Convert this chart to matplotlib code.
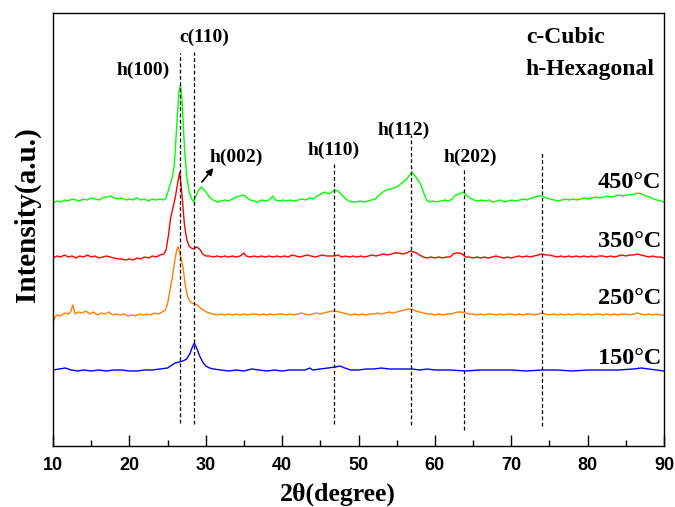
"""
XRD patterns of films annealed at 150-450 °C, stacked with vertical offsets,
with the hexagonal (h) and cubic (c) reflections marked by dashed guides.
"""

import matplotlib
matplotlib.use("Agg")
import matplotlib.pyplot as plt


# ── Data (2θ in degrees, intensity in arbitrary offset units) ────────────────
tt_450 = [10.0, 10.5, 11.0, 11.5, 12.0, 12.5, 13.0, 13.5, 14.0, 14.5, 15.0, 15.5,
          16.0, 16.5, 17.0, 17.5, 18.0, 18.5, 19.0, 19.5, 20.0, 20.5, 21.0, 21.5,
          22.0, 22.5, 23.0, 23.5, 24.0, 24.5, 24.8, 25.2, 25.6, 25.9, 26.2, 26.5,
          26.7, 26.9, 27.2, 27.5, 27.8, 28.1, 28.4, 28.7, 29.0, 29.4, 29.8, 30.2,
          30.6, 31.0, 31.5, 32.0, 32.5, 33.0, 33.5, 34.0, 34.5, 34.9, 35.3, 35.8,
          36.3, 36.8, 37.3, 37.8, 38.3, 38.8, 39.1, 39.6, 40.1, 40.6, 41.1, 41.6,
          42.1, 42.6, 43.1, 43.6, 44.1, 44.6, 45.1, 45.6, 46.1, 46.5, 46.9, 47.3,
          47.7, 48.2, 48.7, 49.2, 49.7, 50.2, 50.7, 51.2, 51.7, 52.2, 52.7, 53.2,
          53.7, 54.2, 54.7, 55.2, 55.7, 56.2, 56.6, 57.0, 57.3, 57.7, 58.1, 58.5,
          58.9, 59.3, 59.8, 60.3, 60.8, 61.3, 61.8, 62.3, 62.7, 63.2, 63.7, 64.1,
          64.6, 65.1, 65.6, 66.1, 66.6, 67.1, 67.6, 68.1, 68.6, 69.1, 69.6, 70.1,
          70.6, 71.1, 71.6, 72.1, 72.6, 73.1, 73.6, 74.1, 74.6, 75.1, 75.6, 76.1,
          76.6, 77.1, 77.6, 78.1, 78.6, 79.1, 79.6, 80.1, 80.6, 81.1, 81.6, 82.1,
          82.6, 83.1, 83.6, 84.1, 84.6, 85.1, 85.6, 86.1, 86.6, 87.1, 87.6, 88.1,
          88.6, 89.1, 89.6, 90.0]
int_450 = [243, 245, 244, 246, 245, 247, 246, 245, 247, 246, 248, 247,
           246, 248, 249, 250, 248, 247, 248, 246, 247, 246, 248, 246,
           247, 245, 247, 246, 247, 246, 248, 258, 268, 282, 320, 355,
           361, 345, 300, 270, 255, 248, 244, 250, 255, 259, 256, 252,
           248, 246, 244, 245, 246, 245, 247, 249, 250, 251, 249, 246,
           245, 244, 246, 245, 246, 250, 246, 245, 246, 245, 246, 245,
           246, 247, 246, 248, 247, 250, 252, 254, 252, 254, 256, 255,
           252, 248, 245, 244, 244, 245, 244, 245, 246, 247, 251, 254,
           256, 257, 258, 260, 263, 266, 270, 274, 271, 267, 262, 254,
           246, 244, 245, 244, 245, 246, 245, 247, 251, 252, 254, 251,
           248, 246, 245, 246, 245, 246, 244, 245, 246, 244, 245, 246,
           245, 246, 247, 246, 248, 249, 250, 250, 248, 247, 246, 245,
           246, 247, 246, 247, 246, 247, 248, 247, 248, 249, 248, 249,
           250, 249, 250, 251, 250, 251, 251, 252, 253, 252, 250, 249,
           247, 246, 245, 244]

tt_350 = [10.0, 10.5, 11.0, 11.5, 12.0, 12.5, 13.0, 13.5, 14.0, 14.5, 15.0, 15.5,
          16.0, 16.5, 17.0, 17.5, 18.0, 18.5, 19.0, 19.5, 20.0, 20.5, 21.0, 21.5,
          22.0, 22.5, 23.0, 23.5, 24.0, 24.5, 24.8, 25.1, 25.4, 25.7, 26.0, 26.3,
          26.6, 26.9, 27.2, 27.5, 27.8, 28.1, 28.4, 28.8, 29.2, 29.6, 30.0, 30.5,
          31.0, 31.5, 32.0, 32.5, 33.0, 33.5, 34.0, 34.5, 35.0, 35.3, 35.8, 36.3,
          36.8, 37.3, 37.8, 38.3, 38.8, 39.3, 39.8, 40.3, 40.8, 41.3, 41.8, 42.3,
          42.8, 43.3, 43.8, 44.3, 44.8, 45.3, 45.8, 46.3, 46.8, 47.3, 47.8, 48.3,
          48.8, 49.3, 49.8, 50.3, 50.8, 51.3, 51.8, 52.3, 52.8, 53.3, 53.8, 54.3,
          54.8, 55.3, 55.8, 56.3, 56.8, 57.2, 57.6, 58.0, 58.5, 59.0, 59.5, 60.0,
          60.5, 61.0, 61.5, 62.0, 62.4, 62.8, 63.2, 63.6, 64.0, 64.5, 65.0, 65.5,
          66.0, 66.5, 67.0, 67.5, 68.0, 68.5, 69.0, 69.5, 70.0, 70.5, 71.0, 71.5,
          72.0, 72.5, 73.0, 73.5, 74.0, 74.5, 75.0, 75.5, 76.0, 76.5, 77.0, 77.5,
          78.0, 78.5, 79.0, 79.5, 80.0, 80.5, 81.0, 81.5, 82.0, 82.5, 83.0, 83.5,
          84.0, 84.5, 85.0, 85.5, 86.0, 86.5, 87.0, 87.5, 88.0, 88.5, 89.0, 89.5,
          90.0]
int_350 = [188, 190, 189, 191, 189, 190, 188, 190, 189, 191, 189, 190,
           188, 189, 190, 189, 188, 187, 187, 186, 187, 186, 188, 187,
           189, 188, 190, 189, 191, 192, 196, 210, 228, 238, 248, 262,
           274, 250, 222, 207, 200, 198, 197, 199, 197, 192, 190, 190,
           189, 190, 189, 190, 189, 190, 189, 190, 193, 190, 189, 190,
           189, 190, 189, 190, 189, 190, 189, 190, 189, 191, 190, 189,
           190, 191, 190, 189, 190, 191, 190, 190, 190, 191, 189, 190,
           189, 190, 189, 190, 189, 190, 191, 190, 191, 192, 191, 192,
           193, 193, 192, 193, 195, 194, 193, 191, 189, 188, 189, 188,
           189, 188, 189, 189, 192, 193, 193, 192, 189, 189, 188, 189,
           188, 189, 188, 189, 190, 189, 188, 189, 188, 189, 190, 189,
           190, 189, 190, 191, 192, 191, 191, 190, 189, 190, 189, 190,
           189, 190, 189, 190, 189, 190, 189, 190, 190, 189, 190, 189,
           190, 191, 190, 191, 191, 192, 191, 190, 189, 190, 189, 189,
           188]

tt_250 = [10.0, 10.2, 10.5, 11.0, 11.5, 12.0, 12.3, 12.6, 12.9, 13.3, 13.8, 14.3,
          14.8, 15.3, 15.8, 16.3, 16.8, 17.3, 17.8, 18.3, 18.8, 19.3, 19.8, 20.3,
          20.8, 21.3, 21.8, 22.3, 22.8, 23.3, 23.8, 24.3, 24.7, 25.0, 25.3, 25.6,
          25.9, 26.2, 26.4, 26.7, 27.0, 27.3, 27.6, 27.9, 28.2, 28.5, 28.9, 29.3,
          29.7, 30.1, 30.5, 31.0, 31.5, 32.0, 32.5, 33.0, 33.5, 34.0, 34.5, 35.0,
          35.5, 36.0, 36.5, 37.0, 37.5, 38.0, 38.5, 39.0, 39.5, 40.0, 40.5, 41.0,
          41.5, 42.0, 42.5, 43.0, 43.5, 44.0, 44.5, 45.0, 45.5, 46.0, 46.5, 47.0,
          47.5, 48.0, 48.5, 49.0, 49.5, 50.0, 50.5, 51.0, 51.5, 52.0, 52.5, 53.0,
          53.5, 54.0, 54.5, 55.0, 55.5, 56.0, 56.5, 57.0, 57.5, 58.0, 58.5, 59.0,
          59.5, 60.0, 60.5, 61.0, 61.5, 62.0, 62.5, 63.0, 63.5, 64.0, 64.5, 65.0,
          65.5, 66.0, 66.5, 67.0, 67.5, 68.0, 68.5, 69.0, 69.5, 70.0, 70.5, 71.0,
          71.5, 72.0, 72.5, 73.0, 73.5, 74.0, 74.5, 75.0, 75.5, 76.0, 76.5, 77.0,
          77.5, 78.0, 78.5, 79.0, 79.5, 80.0, 80.5, 81.0, 81.5, 82.0, 82.5, 83.0,
          83.5, 84.0, 84.5, 85.0, 85.5, 86.0, 86.5, 87.0, 87.5, 88.0, 88.5, 89.0,
          89.5, 90.0]
int_250 = [124, 128, 131, 130, 133, 132, 134, 141, 132, 134, 133, 135,
           132, 134, 131, 133, 132, 134, 131, 132, 131, 132, 130, 131,
           130, 132, 131, 132, 131, 133, 132, 134, 136, 142, 155, 168,
           183, 196, 199, 190, 180, 162, 150, 145, 143, 142, 141, 138,
           136, 134, 133, 132, 131, 132, 131, 132, 131, 132, 131, 132,
           131, 132, 132, 131, 132, 131, 132, 131, 132, 132, 131, 132,
           131, 132, 133, 132, 131, 132, 133, 132, 133, 134, 135, 135,
           134, 133, 132, 131, 132, 131, 132, 131, 132, 132, 133, 132,
           133, 134, 133, 134, 135, 136, 137, 137, 135, 134, 133, 132,
           132, 131, 132, 131, 132, 132, 133, 134, 134, 133, 132, 132,
           131, 132, 131, 132, 132, 131, 132, 131, 132, 132, 131, 132,
           131, 132, 132, 131, 132, 133, 132, 131, 132, 131, 132, 131,
           132, 131, 132, 132, 131, 132, 131, 132, 132, 131, 132, 131,
           132, 131, 132, 132, 131, 132, 133, 132, 131, 132, 131, 132,
           131, 131]

tt_150 = [10.0, 10.8, 11.6, 12.4, 13.2, 14.0, 15.0, 16.0, 17.0, 18.0, 19.0, 20.0,
          21.0, 22.0, 23.0, 24.0, 25.0, 25.6, 26.0, 26.5, 27.0, 27.5, 27.9, 28.2,
          28.5, 28.8, 29.2, 29.6, 30.0, 30.5, 31.0, 32.0, 33.0, 34.0, 35.0, 36.0,
          37.0, 38.0, 39.0, 40.0, 41.0, 42.0, 43.0, 43.6, 44.0, 45.0, 46.0, 47.0,
          47.6, 48.2, 49.0, 50.0, 51.0, 52.0, 53.0, 54.0, 55.0, 56.0, 57.0, 58.0,
          59.0, 60.0, 62.0, 64.0, 66.0, 68.0, 70.0, 72.0, 74.0, 76.0, 78.0, 80.0,
          82.0, 84.0, 86.0, 87.0, 88.0, 90.0]
int_150 = [76, 77, 78, 76, 75, 76, 75, 76, 75, 76, 76, 75,
           75, 76, 76, 77, 78, 81, 83, 84, 85, 87, 92, 98,
           103, 98, 90, 84, 80, 78, 77, 76, 75, 76, 75, 77,
           76, 75, 76, 75, 76, 76, 76, 78, 76, 77, 78, 79,
           80, 78, 76, 76, 77, 77, 78, 77, 77, 77, 77, 76,
           77, 76, 76, 75, 76, 76, 76, 75, 76, 76, 75, 76,
           76, 76, 77, 78, 77, 75]

series_labels = ["150°C", "250°C", "350°C", "450°C"]
series_colors = ["#0000FF", "#FF8000", "#FF0000", "#00FF00"]

# reflection positions (2θ) and the dashed guide extents (intensity units)
peak_pos = [26.6, 28.5, 46.8, 56.9, 63.8, 74.0]
guide_lo = [23, 22, 22, 21, 16, 20]
guide_hi = [393, 394, 283, 311, 276, 294]


# ── Figure ───────────────────────────────────────────────────────────────────
plt.rcParams["font.family"] = ["Liberation Serif", "DejaVu Serif"]

fig = plt.figure(figsize=(6.75, 5.07), dpi=100)
ax = fig.add_axes([53 / 675, 61 / 507, 611 / 675, 433 / 507])

curves = [(tt_150, int_150), (tt_250, int_250), (tt_350, int_350), (tt_450, int_450)]
for (tt, inten), c in zip(curves, series_colors):
    ax.plot(tt, inten, color=c, lw=1.0)

for x, lo, hi in zip(peak_pos, guide_lo, guide_hi):
    ax.plot([x, x], [lo, hi], color="black", lw=0.9, ls=(0, (3, 2)))

ax.set_xlim(10, 90)
ax.set_ylim(0, 433)
ax.set_xticks(range(10, 91, 10))
ax.set_xticks(range(15, 90, 10), minor=True)
ax.set_yticks([])
ax.tick_params(axis="x", which="major", direction="in", length=8, width=1, pad=8,
               labelsize=13)
ax.tick_params(axis="x", which="minor", direction="in", length=4, width=1)
for lab in ax.get_xticklabels():
    lab.set_fontfamily("Liberation Sans")
    lab.set_fontweight("bold")
for s in ax.spines.values():
    s.set_linewidth(1.0)

# reflection labels
bold = dict(fontsize=14, fontweight="bold", ha="center", va="center")
ax.text(21.8, 376, "h(100)", **bold)
ax.text(29.8, 409, "c(110)", **bold)
ax.text(34.0, 289, "h(002)", **bold)
ax.text(46.8, 296, "h(110)", **bold)
ax.text(55.9, 316, "h(112)", **bold)
ax.text(64.7, 289, "h(202)", **bold)
ax.annotate("", xy=(31.0, 278), xytext=(29.5, 264),
            arrowprops=dict(arrowstyle="-|>", color="black", lw=1.2,
                            mutation_scale=10, shrinkA=0, shrinkB=0))

ax.text(71.9, 408, "c-Cubic", fontsize=17, fontweight="bold", ha="left", va="center")
ax.text(71.9, 376, "h-Hexagonal", fontsize=17, fontweight="bold", ha="left", va="center")

# sample temperatures at the right end of each trace
label_y = [88, 148, 204, 263]
for lab, y in zip(series_labels, label_y):
    ax.text(89.6, y, lab, fontsize=17.5, fontweight="bold", ha="right", va="center")

fig.text(27 / 675, 1 - 215 / 507, "Intensity(a.u.)", rotation=90, fontsize=21,
         fontweight="bold", ha="center", va="center")
fig.text(338 / 675, 6 / 507, "2θ(degree)", fontsize=18.5, fontweight="bold",
         ha="center", va="baseline")

fig.savefig("out.png", dpi=100)
